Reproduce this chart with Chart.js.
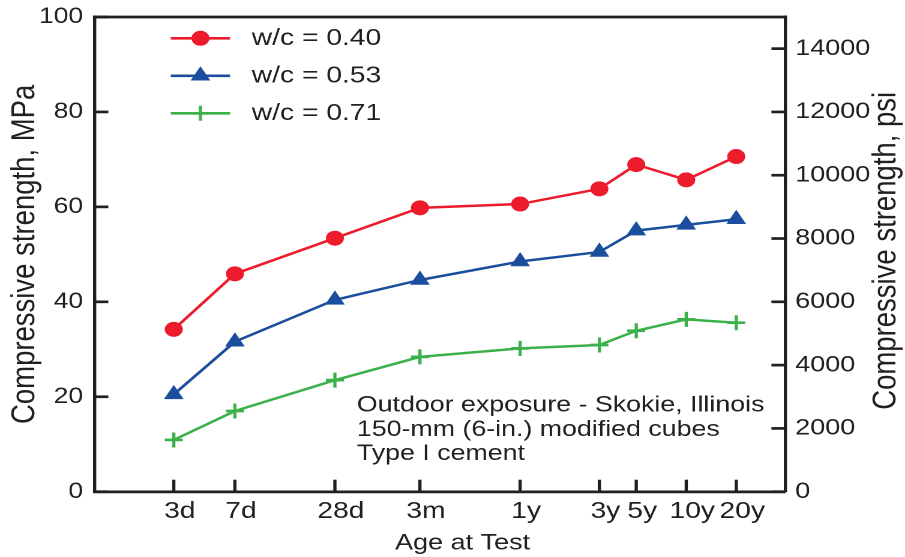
<!DOCTYPE html>
<html>
<head>
<meta charset="utf-8">
<title>Compressive strength vs age</title>
<script src="https://cdn.jsdelivr.net/npm/chart.js@4.4.1/dist/chart.umd.min.js"></script>
<style>
  html, body { margin: 0; padding: 0; background: #fff; overflow: hidden; }
  /* the figure is laid out narrow and widened horizontally */
  #wrap { position: absolute; left: 0; top: 0; width: 754px; height: 557px;
          transform: scaleX(1.2003); transform-origin: 0 0; }
</style>
</head>
<body>
<div id="wrap"><canvas id="chart"></canvas></div>
<script>
// Test ages: labels and age in days (log axis)
const ageLabels = ['3d', '7d', '28d', '3m', '1y', '3y', '5y', '10y', '20y'];
const ageDays   = [3, 7, 28, 91, 365, 1095, 1825, 3650, 7300];

// Compressive strength, MPa
const wc040 = [34.2, 45.9, 53.4, 59.8, 60.6, 63.8, 68.9, 65.7, 70.6];
const wc053 = [20.5, 31.6, 40.4, 44.6, 48.5, 50.5, 55.0, 56.2, 57.4];
const wc071 = [10.9, 17.0, 23.5, 28.4, 30.2, 30.9, 33.9, 36.3, 35.6];
const seriesNames = ['w/c = 0.40', 'w/c = 0.53', 'w/c = 0.71'];

// Axis ticks
const mpaTicks = [0, 20, 40, 60, 80, 100];
const psiTicks = [0, 2000, 4000, 6000, 8000, 10000, 12000, 14000];

const noteLines = ['Outdoor exposure - Skokie, Illinois', '150-mm (6-in.) modified cubes', 'Type I cement'];

const INK = '#231f20';
const FONT = "'Liberation Sans', Arial, Helvetica, sans-serif";
const RED = '#ec1c2d', BLUE = '#1c4e9e', GREEN = '#3cb04a';
const TICK_W = 2.7;

const pts = vals => ageDays.map((d, i) => ({ x: d, y: vals[i] }));

function series(label, vals, color, style, radius, pbw) {
  return {
    label, data: pts(vals), yAxisID: 'y',
    borderColor: color, backgroundColor: color, borderWidth: 2.5, tension: 0,
    pointStyle: style, pointRadius: radius, pointHoverRadius: radius,
    pointBackgroundColor: color, pointBorderColor: color, pointBorderWidth: pbw
  };
}

function seg(ctx, x1, y1, x2, y2) {
  ctx.beginPath(); ctx.moveTo(x1, y1); ctx.lineTo(x2, y2); ctx.stroke();
}

// fixed axis box sizes, no extra label padding
const fixWidth = w => s => { s.width = w; s.paddingTop = 0; s.paddingBottom = 0; };
const fixHeight = h => s => { s.height = h; s.paddingLeft = 0; s.paddingRight = 0; };

// Box top edge, inward tick marks, legend key, note block and extra titles
const decorations = {
  id: 'decorations',
  afterDraw(chart) {
    const ctx = chart.ctx, a = chart.chartArea;
    const { x, y, psi } = chart.scales;
    ctx.save();
    ctx.strokeStyle = INK; ctx.lineWidth = TICK_W; ctx.lineCap = 'butt';
    seg(ctx, a.left - TICK_W / 2, a.top, a.right + TICK_W / 2, a.top);

    // tick marks pointing into the plot
    x.ticks.forEach(t => { const p = x.getPixelForValue(t.value); seg(ctx, p, a.bottom, p, a.bottom - 12); });
    y.ticks.forEach(t => { const p = y.getPixelForValue(t.value); seg(ctx, a.left, p, a.left + 11.5, p); });
    psi.ticks.forEach(t => { const p = psi.getPixelForValue(t.value); seg(ctx, a.right, p, a.right - 11.5, p); });

    // legend key
    chart.data.datasets.forEach((ds, i) => {
      const yy = 38.3 + i * 37.5;
      ctx.strokeStyle = ds.borderColor; ctx.lineWidth = 2.7;
      seg(ctx, 142.3, yy, 191.7, yy);
      ctx.fillStyle = ds.pointBackgroundColor; ctx.strokeStyle = ds.pointBorderColor;
      ctx.lineWidth = ds.pointBorderWidth;
      Chart.helpers.drawPoint(ctx, { pointStyle: ds.pointStyle, radius: ds.pointRadius, rotation: 0, borderWidth: ds.pointBorderWidth }, 167, yy);
      ctx.fillStyle = INK; ctx.font = '23.5px ' + FONT;
      ctx.textAlign = 'left'; ctx.textBaseline = 'middle';
      ctx.fillText(ds.label, 209.8, yy);
    });

    // note block
    ctx.fillStyle = INK; ctx.font = '22.3px ' + FONT;
    ctx.textAlign = 'left'; ctx.textBaseline = 'alphabetic';
    noteLines.forEach((t, i) => ctx.fillText(t, 297.3, 411.7 + i * 24.2));

    // x title
    ctx.font = '22.5px ' + FONT; ctx.textAlign = 'center';
    ctx.fillText('Age at Test', 385.4, 549.3);

    // right title, reading upward
    ctx.translate(738.3, 250.8); ctx.rotate(-Math.PI / 2);
    ctx.font = '27.5px ' + FONT; ctx.textBaseline = 'middle';
    ctx.fillText('Compressive strength, psi', 0, 0);
    ctx.restore();
  }
};

const axisLine = { display: true, color: INK, width: 2.7 };
const noGrid = { display: false, drawOnChartArea: false, drawTicks: false };

new Chart(document.getElementById('chart'), {
  type: 'line',
  data: {
    datasets: [
      series(seriesNames[0], wc040, RED, 'circle', 7, 1),
      series(seriesNames[1], wc053, BLUE, 'triangle', 8.5, 1),
      series(seriesNames[2], wc071, GREEN, 'cross', 7.5, 2.7)
    ]
  },
  options: {
    responsive: true, maintainAspectRatio: false, animation: false,
    devicePixelRatio: 2,
    layout: { padding: { top: 17, left: 0, right: 0, bottom: 0 } },
    plugins: { legend: { display: false }, tooltip: { enabled: false } },
    scales: {
      x: {
        type: 'logarithmic', position: 'bottom', min: 1, max: 14400,
        afterBuildTicks: s => { s.ticks = ageDays.map(v => ({ value: v })); },
        afterFit: fixHeight(65.3),
        ticks: {
          callback: (v, i) => ageLabels[i], autoSkip: false, maxRotation: 0, minRotation: 0,
          padding: 5.7, labelOffset: 5, color: INK, font: { family: FONT, size: 23.5 }
        },
        grid: noGrid,
        border: axisLine
      },
      y: {
        type: 'linear', position: 'left', min: 0, max: 100,
        afterBuildTicks: s => { s.ticks = mpaTicks.map(v => ({ value: v })); },
        afterFit: fixWidth(78.75),
        ticks: { padding: 9.5, color: INK, font: { family: FONT, size: 22 } },
        grid: noGrid,
        border: axisLine,
        title: { display: true, text: 'Compressive strength, MPa', color: INK,
                 font: { family: FONT, size: 27.5 }, padding: { top: 4.3, bottom: 0 } }
      },
      psi: {
        type: 'linear', position: 'right', min: 0, max: 15000,
        afterBuildTicks: s => { s.ticks = psiTicks.map(v => ({ value: v })); },
        afterFit: fixWidth(99.8),
        ticks: { padding: 8.3, color: INK, font: { family: FONT, size: 22.5 },
                 callback: v => String(v) },
        grid: noGrid,
        border: axisLine
      }
    }
  },
  plugins: [decorations]
});
</script>
</body>
</html>
